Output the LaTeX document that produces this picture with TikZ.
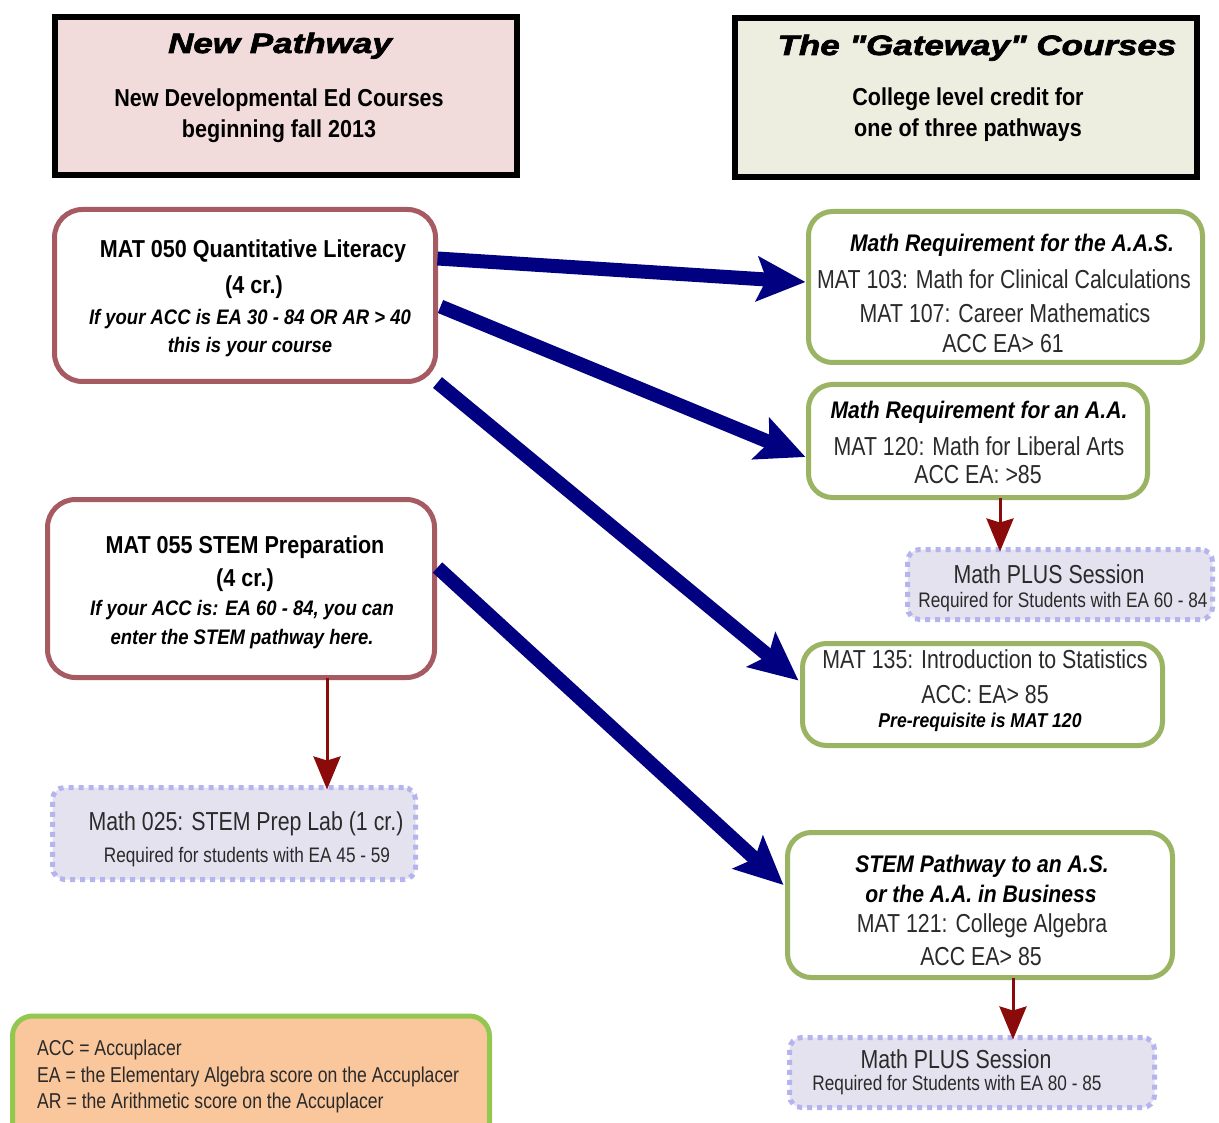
\documentclass[tikz,border=0pt]{standalone}
\usepackage{fontspec}
\setmainfont{Liberation Sans}
\newfontfamily\regf{Liberation Sans}[FakeStretch=0.82]
\newfontfamily\bldf{Liberation Sans}[FakeStretch=0.88]
\newfontfamily\ttlf{Liberation Sans}[FakeStretch=1.25,BoldItalicFeatures={FakeBold=2.5}]
\usetikzlibrary{arrows.meta,calc}
\definecolor{navyc}{HTML}{000080}
\definecolor{redarr}{HTML}{8B0A0A}
\definecolor{pinkfill}{HTML}{F2DCDB}
\definecolor{beigefill}{HTML}{EDEEE0}
\definecolor{redbord}{HTML}{A65A62}
\definecolor{greenbord}{HTML}{9BB463}
\definecolor{lavfill}{HTML}{E4E2EE}
\definecolor{lavbord}{HTML}{B4B4EE}
\definecolor{legfill}{HTML}{FAC69B}
\definecolor{legbord}{HTML}{92C850}
\definecolor{txtc}{HTML}{2A2A2A}
\newcommand\fR[1]{\regf\fontsize{#1}{#1}\selectfont}
\newcommand\fB[1]{\bldf\bfseries\fontsize{#1}{#1}\selectfont}
\newcommand\fBI[1]{\bldf\bfseries\itshape\fontsize{#1}{#1}\selectfont}
\newcommand\fT[1]{\ttlf\bfseries\itshape\fontsize{#1}{#1}\selectfont}
\begin{document}
\begin{tikzpicture}[x=1pt,y=-1pt,
  hdr/.style={draw=black,line width=6pt,inner sep=0pt,outer sep=0pt},
  redbox/.style={draw=redbord,line width=5pt,rounded corners=28pt,fill=white,inner sep=0pt,outer sep=0pt},
  grnbox/.style={draw=greenbord,line width=5pt,rounded corners=24pt,fill=white,inner sep=0pt,outer sep=0pt},
  dotbox/.style={draw=lavbord,fill=lavfill,line width=5pt,dash pattern=on 5pt off 5pt,rounded corners=12pt,inner sep=0pt,outer sep=0pt},
  legbox/.style={draw=legbord,fill=legfill,line width=5pt,rounded corners=20pt,inner sep=0pt,outer sep=0pt},
  txt/.style={inner sep=0pt,anchor=base,text=txtc},
  ttl/.style={inner sep=0pt,anchor=base,text=black},
  navyarr/.style={draw=navyc,line width=14pt,-{Stealth[length=48pt,width=44pt,inset=9pt]}},
  redarrow/.style={draw=redarr,line width=3pt,-{Stealth[length=33pt,width=27pt,inset=4pt]}}]
\useasboundingbox (0,0) rectangle (1219,1123);
\fill[white] (0,0) rectangle (1219,1123);

% header boxes
\node[hdr,fill=pinkfill,minimum width=462pt,minimum height=158pt] (hdrL) at (286,96) {};
\node[ttl,font=\fT{28}] (hdrLa) at (280,53) {New Pathway};
\node[ttl,font=\fB{24.5}] (hdrLb) at (279,107) {New Developmental Ed Courses};
\node[ttl,font=\fB{24.5}] (hdrLc) at (279,138) {beginning fall 2013};

\node[hdr,fill=beigefill,minimum width=462pt,minimum height=159pt] (hdrR) at (966,97.5) {};
\node[ttl,font=\fT{28}] (hdrRa) at (977,55) {The "Gateway" Courses};
\node[ttl,font=\fB{24.5}] (hdrRb) at (968,106) {College level credit for};
\node[ttl,font=\fB{24.5}] (hdrRc) at (968,137) {one of three pathways};

% left boxes
\node[redbox,minimum width=381pt,minimum height=172pt] (m050) at (245,295.5) {};
\node[ttl,font=\fB{24.5}] (m050a) at (253,258) {MAT 050 Quantitative Literacy};
\node[ttl,font=\fB{24.5}] (m050b) at (254,294) {(4 cr.)};
\node[ttl,font=\fBI{21}] (m050c) at (250,325) {If your ACC is EA 30 - 84 OR AR > 40};
\node[ttl,font=\fBI{21}] (m050d) at (250,353) {this is your course};

\node[redbox,minimum width=387pt,minimum height=178pt] (m055) at (241,588.5) {};
\node[ttl,font=\fB{24.5}] (m055a) at (245,553) {MAT 055 STEM Preparation};
\node[ttl,font=\fB{24.5}] (m055b) at (245,586) {(4 cr.)};
\node[ttl,font=\fBI{21}] (m055c) at (242,615) {If your ACC is: EA 60 - 84, you can};
\node[ttl,font=\fBI{21}] (m055d) at (242,644) {enter the STEM pathway here.};

\node[dotbox,minimum width=363pt,minimum height=92pt] (m025) at (234,833.5) {};
\node[txt,font=\fR{26}] (m025a) at (246,830) {Math 025: STEM Prep Lab (1 cr.)};
\node[txt,font=\fR{21}] (m025b) at (247,862) {Required for students with EA 45 - 59};

% right boxes
\node[grnbox,minimum width=394pt,minimum height=151pt] (aas) at (1005.5,287) {};
\node[ttl,font=\fBI{24}] (aasa) at (1012,252) {Math Requirement for the A.A.S.};
\node[txt,font=\fR{26}] (aasb) at (1004,289) {MAT 103: Math for Clinical Calculations};
\node[txt,font=\fR{26}] (aasc) at (1005,323) {MAT 107: Career Mathematics};
\node[txt,font=\fR{26}] (aasd) at (1003,353) {ACC EA> 61};

\node[grnbox,minimum width=339pt,minimum height=113pt] (aa) at (978,441) {};
\node[ttl,font=\fBI{24}] (aaa) at (979,419) {Math Requirement for an A.A.};
\node[txt,font=\fR{26}] (aab) at (979,455) {MAT 120: Math for Liberal Arts};
\node[txt,font=\fR{26}] (aac) at (978,483) {ACC EA: >85};

\node[dotbox,minimum width=305pt,minimum height=70pt] (plus1) at (1060,584.5) {};
\node[txt,font=\fR{26}] (plus1a) at (1049,583) {Math PLUS Session};
\node[txt,font=\fR{21}] (plus1b) at (1063,607) {Required for Students with EA 60 - 84};

\node[grnbox,minimum width=360pt,minimum height=102pt] (m135) at (982.5,694.5) {};
\node[txt,font=\fR{26}] (m135a) at (985,668) {MAT 135: Introduction to Statistics};
\node[txt,font=\fR{26}] (m135b) at (985,703) {ACC: EA> 85};
\node[ttl,font=\fBI{20}] (m135c) at (980,727) {Pre-requisite is MAT 120};

\node[grnbox,minimum width=385pt,minimum height=145pt] (stem) at (980,905) {};
\node[ttl,font=\fBI{24}] (stema) at (982,872) {STEM Pathway to an A.S.};
\node[ttl,font=\fBI{24}] (stemb) at (981,902) {or the A.A. in Business};
\node[txt,font=\fR{26}] (stemc) at (982,932) {MAT 121: College Algebra};
\node[txt,font=\fR{26}] (stemd) at (981,965) {ACC EA> 85};

\node[dotbox,minimum width=365pt,minimum height=70pt] (plus2) at (972,1072.5) {};
\node[txt,font=\fR{26}] (plus2a) at (956,1068) {Math PLUS Session};
\node[txt,font=\fR{21}] (plus2b) at (957,1090) {Required for Students with EA 80 - 85};

% legend
\node[legbox,minimum width=477pt,minimum height=130pt] (leg) at (251,1081) {};
\node[txt,font=\fR{21.5},anchor=base west] (lega) at (37,1055) {ACC = Accuplacer};
\node[txt,font=\fR{21.5},anchor=base west] (legb) at (37,1082) {EA = the Elementary Algebra score on the Accuplacer};
\node[txt,font=\fR{21.5},anchor=base west] (legc) at (37,1108) {AR = the Arithmetic score on the Accuplacer};

% navy arrows
\draw[navyarr] ($(m050.east)+(2,-37)$) -- ($(aas.west)+(-3,-5)$);
\draw[navyarr] ($(m050.east)+(5,11)$) -- ($(aa.west)+(-3,16)$);
\draw[navyarr] ($(m050.east)+(2,87)$) -- ($(m135.west)+(-4,-14)$);
\draw[navyarr] ($(m055.east)+(3,-21)$) -- ($(stem.west)+(-4,-20)$);

% red arrows
\draw[redarrow] ($(aa.south)+(22,0)$) -- ($(plus1.north)+(-60,2)$);
\draw[redarrow] ($(m055.south)+(86,0)$) -- ($(m025.north)+(93,2)$);
\draw[redarrow] ($(stem.south)+(33,0)$) -- ($(plus2.north)+(41,2)$);
\end{tikzpicture}
\end{document}
